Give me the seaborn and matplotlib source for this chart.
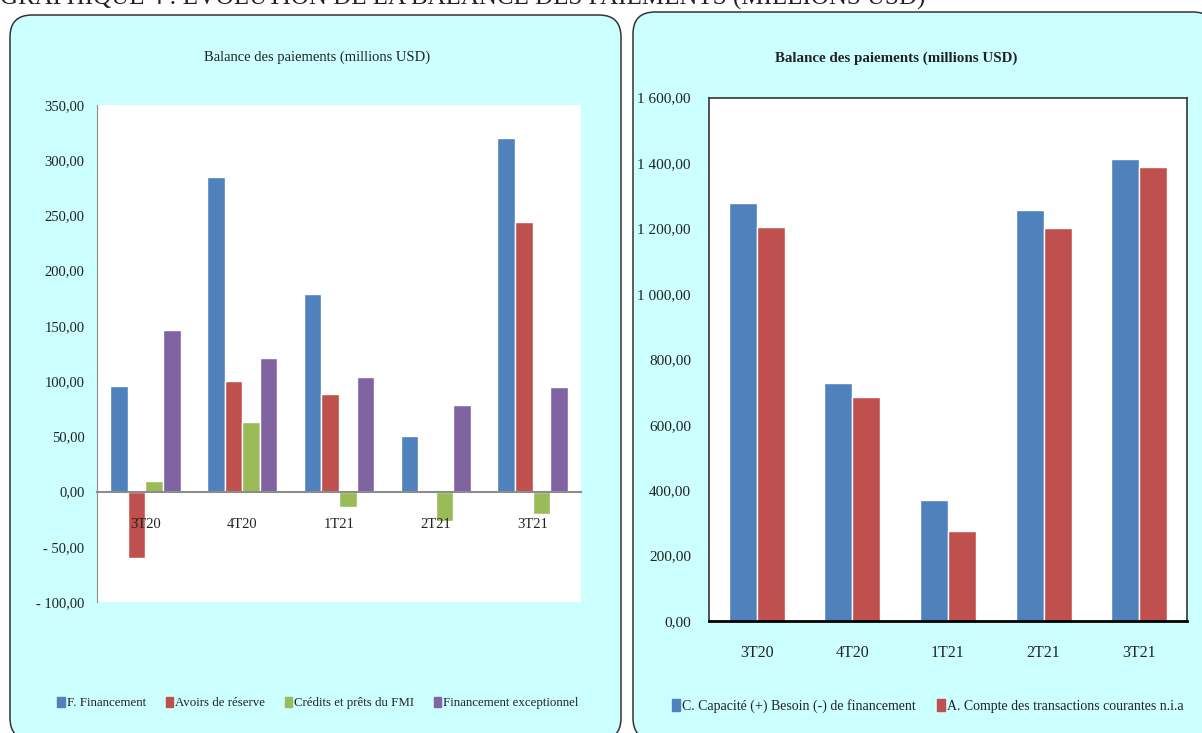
# =====================================================
# BALANCE DES PAIEMENTS - GRAPHIQUE 4
# =====================================================

# ---------- IMPORT LIBRARIES ----------
import pandas as pd
import numpy as np
import matplotlib
matplotlib.use("Agg")
import matplotlib.pyplot as plt
from matplotlib.patches import FancyBboxPatch, Patch
from matplotlib.ticker import FixedLocator, FuncFormatter
import seaborn as sns

# =====================================================
# DATA
# =====================================================

trimestres = ["3T20", "4T20", "1T21", "2T21", "3T21"]

# left chart (millions USD)
series_gauche = ["F. Financement", "Avoirs de réserve",
                 "Crédits et prêts du FMI", "Financement exceptionnel"]
financement = [96, 285, 179, 50, 320]
avoirs_reserve = [-60, 100, 88, 0, 244]
credits_fmi = [10, 63, -14, -27, -20]
financement_exc = [146, 121, 104, 78, 95]

# right chart (millions USD)
series_droite = ["C. Capacité (+) Besoin (-) de financement",
                 "A. Compte des transactions courantes n.i.a"]
capacite_besoin = [1279, 728, 370, 1257, 1412]
compte_courant = [1205, 686, 274, 1200, 1389]

couleurs_gauche = ["#4F81BD", "#C0504D", "#9BBB59", "#8064A2"]
couleurs_droite = ["#4F81BD", "#C0504D"]

titre_graph = "Balance des paiements (millions USD)"
titre_haut = "GRAPHIQUE 4 : EVOLUTION DE LA BALANCE DES PAIEMENTS (MILLIONS USD)"

# long form tables for seaborn
df_g = pd.DataFrame({
    "Trimestre": trimestres * 4,
    "Serie": np.repeat(series_gauche, len(trimestres)),
    "Valeur": financement + avoirs_reserve + credits_fmi + financement_exc,
})
df_d = pd.DataFrame({
    "Trimestre": trimestres * 2,
    "Serie": np.repeat(series_droite, len(trimestres)),
    "Valeur": capacite_besoin + compte_courant,
})

# =====================================================
# STYLE
# =====================================================

sns.set_style("white")
plt.rcParams['font.family'] = ['Liberation Serif', 'DejaVu Serif']

TXT = "#222222"
FOND = "#CCFFFF"
W, H = 1202, 733


def fmt_fr(v, pos=None):
    s = f"{abs(v):,.2f}".replace(",", " ").replace(".", ",")
    return ("- " + s) if v < 0 else s


fig = plt.figure(figsize=(W / 100, H / 100), dpi=100)
fig.patch.set_facecolor("white")

# ---------- background panels (pixel coords) ----------
bg = fig.add_axes([0, 0, 1, 1], zorder=-1)
bg.set_xlim(0, W)
bg.set_ylim(H, 0)
bg.axis("off")
for x0, y0, x1, y1 in [(10, 15, 621, 740), (633, 12, 1215, 740)]:
    bg.add_patch(FancyBboxPatch((x0, y0), x1 - x0, y1 - y0,
                                boxstyle="round,pad=0,rounding_size=22",
                                facecolor=FOND, edgecolor="#333333", lw=1.1))
bg.text(0, 5, titre_haut, fontsize=18, color=TXT, ha="left", va="baseline")


def px_axes(x0, y0, x1, y1):
    return fig.add_axes([x0 / W, 1 - y1 / H, (x1 - x0) / W, (y1 - y0) / H])


# =====================================================
# LEFT CHART
# =====================================================

ax1 = px_axes(97, 105, 581, 602)
sns.barplot(data=df_g, x="Trimestre", y="Valeur", hue="Serie",
            palette=couleurs_gauche, saturation=1, width=0.727,
            errorbar=None, legend=False, ax=ax1)
ax1.set_axisbelow(False)
ax1.set_facecolor("white")
ax1.set_ylim(-100, 350)
ax1.set_xlim(-0.5, 4.5)
ax1.yaxis.set_major_locator(FixedLocator(np.arange(-100, 351, 50)))
ax1.yaxis.set_major_formatter(FuncFormatter(fmt_fr))
for s in ["top", "right"]:
    ax1.spines[s].set_visible(False)
ax1.spines["left"].set_color("#8C8C8C")
ax1.spines["bottom"].set_color("#8C8C8C")
ax1.spines["bottom"].set_linewidth(1.5)
ax1.spines["bottom"].set_position(("data", 0))
ax1.set_xticks(np.arange(-0.5, 5, 1), minor=True)
ax1.tick_params(axis="x", which="major", length=0, pad=19,
                labelsize=10.5, labelcolor=TXT)
ax1.tick_params(axis="x", which="minor", length=5, color="#8C8C8C",
                direction="out", width=1)
ax1.tick_params(axis="y", length=5, color="#8C8C8C", direction="out",
                labelsize=10.5, labelcolor=TXT, pad=4)
ax1.set_xlabel("")
ax1.set_ylabel("")
fig.text(317 / W, 1 - 57 / H, titre_graph, ha="center", va="center",
         fontsize=10.5, color=TXT)

leg1 = fig.legend(handles=[Patch(color=c, label=l)
                           for c, l in zip(couleurs_gauche, series_gauche)],
                  loc="center", bbox_to_anchor=(318 / W, 1 - 703 / H),
                  ncol=4, frameon=False, fontsize=9.3, handlelength=0.6,
                  handleheight=0.9, handletextpad=0.15, columnspacing=1.5)
for t in leg1.get_texts():
    t.set_color(TXT)

# =====================================================
# RIGHT CHART
# =====================================================

ax2 = px_axes(709, 97.5, 1187, 621)
sns.barplot(data=df_d, x="Trimestre", y="Valeur", hue="Serie",
            palette=couleurs_droite, saturation=1, width=0.586,
            errorbar=None, legend=False, ax=ax2)
ax2.set_axisbelow(False)
ax2.set_facecolor("white")
ax2.set_ylim(0, 1600)
ax2.set_xlim(-0.5, 4.5)
ax2.yaxis.set_major_locator(FixedLocator(np.arange(0, 1601, 200)))
ax2.yaxis.set_major_formatter(FuncFormatter(fmt_fr))
for s in ["top", "right", "left"]:
    ax2.spines[s].set_color("#333333")
    ax2.spines[s].set_linewidth(1.2)
ax2.spines["bottom"].set_color("black")
ax2.spines["bottom"].set_linewidth(2)
ax2.set_xticks(np.arange(-0.5, 5, 1), minor=True)
ax2.tick_params(axis="x", which="major", length=0, pad=17,
                labelsize=11.5, labelcolor=TXT)
ax2.tick_params(axis="x", which="minor", length=7, color="black",
                direction="out", width=1.2)
ax2.tick_params(axis="y", length=0, labelsize=11, labelcolor=TXT, pad=13)
ax2.set_xlabel("")
ax2.set_ylabel("")
fig.text(896 / W, 1 - 58 / H, titre_graph, ha="center", va="center",
         fontsize=10.8, fontweight="bold", color=TXT)

leg2 = fig.legend(handles=[Patch(color=c, label=l)
                           for c, l in zip(couleurs_droite, series_droite)],
                  loc="center", bbox_to_anchor=(928 / W, 1 - 706 / H),
                  ncol=2, frameon=False, fontsize=10, handlelength=0.6,
                  handleheight=1.0, handletextpad=0.15, columnspacing=1.5)
for t in leg2.get_texts():
    t.set_color(TXT)

# =====================================================
# SAVE
# =====================================================

fig.savefig("out.png", dpi=100, facecolor=fig.get_facecolor())
print("Chart saved to out.png")
